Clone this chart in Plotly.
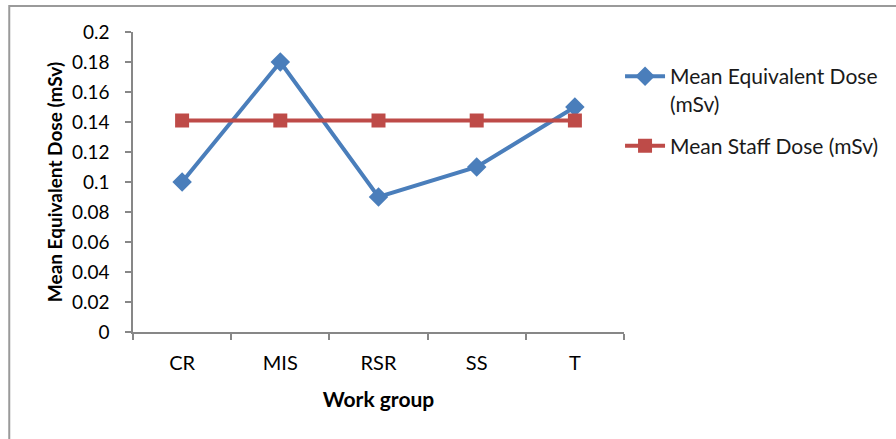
import plotly.graph_objects as go

categories = ["CR", "MIS", "RSR", "SS", "T"]
equiv_dose = [0.10, 0.18, 0.09, 0.11, 0.15]
staff_dose = [0.141, 0.141, 0.141, 0.141, 0.141]
y_ticks = [0, 0.02, 0.04, 0.06, 0.08, 0.1, 0.12, 0.14, 0.16, 0.18, 0.2]
y_labels = ["0", "0.02", "0.04", "0.06", "0.08", "0.1", "0.12", "0.14", "0.16", "0.18", "0.2"]

BLUE = "#4A7EBB"
RED = "#BE4B48"
FONT = "Lato"

fig = go.Figure()
fig.add_trace(go.Scatter(
    x=categories, y=equiv_dose, mode="lines+markers",
    name="Mean Equivalent Dose<br>(mSv)", legendgroup="a",
    line=dict(color=BLUE, width=4),
    marker=dict(symbol="diamond", size=15, color=BLUE),
))
fig.add_trace(go.Scatter(
    x=categories, y=staff_dose, mode="lines+markers",
    name="Mean Staff Dose (mSv)", legendgroup="b",
    line=dict(color=RED, width=4),
    marker=dict(symbol="square", size=14, color=RED),
))

L, R, T, B = 133, 267, 32, 107
W, H = 896, 439
pw = W - L - R
ph = H - T - B

fig.update_layout(
    width=W, height=H,
    margin=dict(l=L, r=R, t=T, b=B, pad=0),
    paper_bgcolor="white", plot_bgcolor="white",
    font=dict(family=FONT, size=19, color="#000000"),
    showlegend=True,
    legend=dict(
        x=(625 - L) / pw, y=(332 - 56) / ph, xanchor="left", yanchor="top",
        font=dict(family=FONT, size=21, color="#1a1a1a"),
        valign="top", tracegroupgap=12, itemwidth=40,
        bgcolor="rgba(0,0,0,0)",
    ),
    xaxis=dict(
        type="category", range=[-0.5, 4.5],
        showline=True, linecolor="#878787", linewidth=1.5,
        ticks="outside", tickson="boundaries", ticklen=6, tickcolor="#878787", tickwidth=1.5,
        showgrid=False, zeroline=False,
        ticklabelstandoff=12,
        tickfont=dict(family=FONT, size=20, color="#000000"),
        title=dict(text="<b>Work group</b>", font=dict(family=FONT, size=21, color="#000000"), standoff=20),
    ),
    yaxis=dict(
        range=[0, 0.2], tickvals=y_ticks, ticktext=y_labels,
        showline=True, linecolor="#878787", linewidth=1.5,
        ticks="outside", ticklen=6, tickcolor="#878787", tickwidth=1.5,
        showgrid=False, zeroline=False,
        ticklabelstandoff=12,
        tickfont=dict(family=FONT, size=19, color="#000000"),
        title=dict(text="<b>Mean Equivalent Dose (mSv)</b>", font=dict(family=FONT, size=19, color="#000000"), standoff=4),
    ),
    shapes=[dict(
        type="rect", xref="paper", yref="paper",
        x0=(8 - L) / pw, x1=(W + 20 - L) / pw,
        y0=(332 - (H + 20)) / ph, y1=(332 - 6) / ph,
        line=dict(color="#9a9a9a", width=2), fillcolor="rgba(0,0,0,0)", layer="below",
    )],
)

fig.write_html(
    "out.html",
    config={"displayModeBar": False},
    post_script="document.body.style.margin='0';document.body.style.overflow='hidden';",
)
